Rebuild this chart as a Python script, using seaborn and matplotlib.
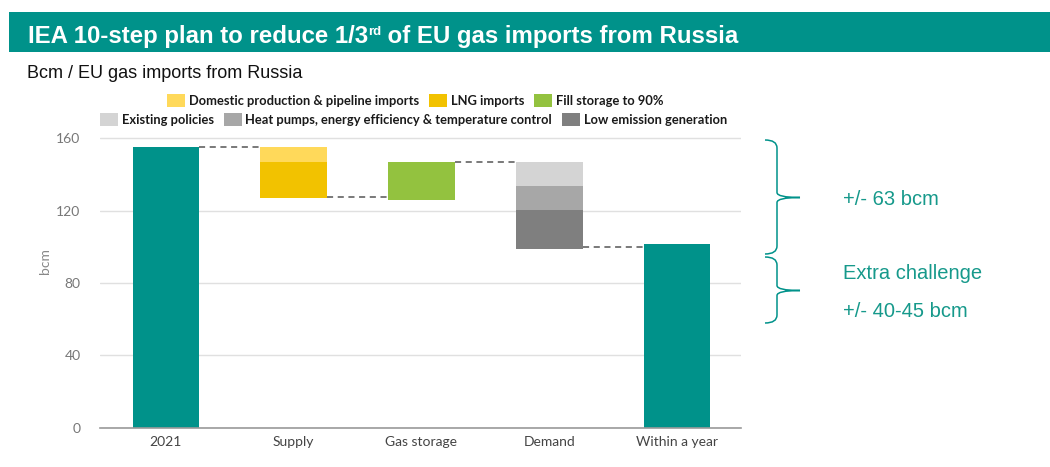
import numpy as np
import pandas as pd
import matplotlib
matplotlib.use("Agg")
import matplotlib.pyplot as plt
import seaborn as sns
from matplotlib.patches import Patch, Rectangle, PathPatch
from matplotlib.path import Path

# ---------------- data ----------------
categories = ["2021", "Supply", "Gas storage", "Demand", "Within a year"]
start_2021 = 155
supply_labels = ["Domestic production & pipeline imports", "LNG imports"]
supply_cuts = [8, 20]
storage_label = "Fill storage to 90%"
storage_low, storage_high = 126, 147
demand_labels = ["Existing policies",
                 "Heat pumps, energy efficiency & temperature control",
                 "Low emission generation"]
demand_cuts = [13.5, 13, 21.5]
within_year = 101.5
y_ticks = [0, 40, 80, 120, 160]
note_top = "+/- 63 bcm"
note_mid = "Extra challenge"
note_bot = "+/- 40-45 bcm"

# ---------------- style ----------------
TEAL = "#00928A"
TEXT_TEAL = "#16998B"
supply_colors = ["#FFD95A", "#F2C200"]
storage_color = "#93C23F"
demand_colors = ["#D4D4D4", "#A7A7A7", "#7F7F7F"]
BW = 0.52

sns.set_theme(style="white")
plt.rcParams["font.family"] = ["Lato", "DejaVu Sans"]

fig = plt.figure(figsize=(10.5, 4.67), dpi=100)
ov = fig.add_axes([0, 0, 1, 1], zorder=0)
ov.set_xlim(0, 1050)
ov.set_ylim(467, 0)
ov.axis("off")

ax = fig.add_axes([100 / 1050, 1 - 427.7 / 467, 641 / 1050, 162 * 1.809 / 467], zorder=1)

# totals via seaborn
tot_vals = [start_2021, 0, 0, 0, within_year]
sns.barplot(x=categories, y=tot_vals, order=categories, color=TEAL, saturation=1,
            width=BW, ax=ax, linewidth=0)

# supply segments
top = start_2021
for val, col in zip(supply_cuts, supply_colors):
    ax.bar(1, val, bottom=top - val, width=BW, color=col, linewidth=0, zorder=3)
    top -= val
supply_end = top
# storage
ax.bar(2, storage_high - storage_low, bottom=storage_low, width=BW,
       color=storage_color, linewidth=0, zorder=3)
# demand
top = storage_high
for val, col in zip(demand_cuts, demand_colors):
    ax.bar(3, val, bottom=top - val, width=BW, color=col, linewidth=0, zorder=3)
    top -= val
demand_end = top

# connectors
dash = dict(color="#555555", lw=1.1, ls=(0, (4, 3)), zorder=2)
h = BW / 2
ax.plot([0 + h, 1 - h], [start_2021, start_2021], **dash)
ax.plot([1 + h, 2 - h], [supply_end + 0.5, supply_end + 0.5], **dash)
ax.plot([2 + h, 3 - h], [storage_high, storage_high], **dash)
ax.plot([3 + h, 4 - h], [demand_end + 1, demand_end + 1], **dash)

# axes formatting
ax.set_xlim(-0.515, 4.5)
ax.set_ylim(0, 162)
ax.set_yticks(y_ticks)
ax.set_yticklabels([str(v) for v in y_ticks], color="#777777", fontsize=10)
ax.set_xticks(range(len(categories)))
ax.set_xticklabels(categories, color="#444444", fontsize=10)
ax.set_xticks([0.5, 1.5, 2.5, 3.5], minor=True)
ax.tick_params(axis="x", which="major", length=0, pad=6)
ax.tick_params(axis="x", which="minor", length=7, width=1, color="#999999", direction="out")
ax.tick_params(axis="y", length=0, pad=14)
ax.set_xlabel("")
ax.set_ylabel("")
ax.yaxis.grid(True, color="#E0E0E0", lw=1)
ax.set_axisbelow(True)
for s in ["left", "right", "top"]:
    ax.spines[s].set_visible(False)
ax.spines["bottom"].set_color("#9A9A9A")
ax.spines["bottom"].set_linewidth(1.2)
ax.spines["bottom"].set_zorder(5)

ov.text(45, 261, "bcm", rotation=90, color="#888888", fontsize=10,
        ha="center", va="center")

# ---------------- banner & titles ----------------
ov.add_patch(Rectangle((9, 12.3), 1041, 39.4, color=TEAL, lw=0))
tfont = dict(family="Liberation Sans", weight="bold", color="white")
t1 = ov.text(28, 42.7, "IEA 10-step plan to reduce 1/3", fontsize=17.3, va="baseline",
             **tfont)
t2 = ov.annotate("rd", xy=(1, 0.93), xycoords=t1, va="top", ha="left", fontsize=9.5,
                 **tfont)
t3 = ov.annotate(" of EU gas imports from Russia", xy=(1, 0), xycoords=(t2, t1),
                 va="bottom", ha="left", fontsize=17.3, **tfont)

ov.text(27, 77.7, "Bcm / EU gas imports from Russia", fontsize=13,
        family="Liberation Sans", color="#111111", va="baseline")

# ---------------- legends ----------------
lprop = dict(family="Lato", weight="bold", size=9.3)
lkw = dict(loc="center", frameon=False, prop=lprop, handlelength=1.4,
           handleheight=1.15, handletextpad=0.3, columnspacing=0.75,
           borderpad=0, borderaxespad=0, ncol=3)
h1 = [Patch(facecolor=c, edgecolor="none") for c in supply_colors + [storage_color]]
l1 = fig.legend(h1, supply_labels + [storage_label],
                bbox_to_anchor=(415 / 1050, 1 - 100.5 / 467), **lkw)
h2 = [Patch(facecolor=c, edgecolor="none") for c in demand_colors]
l2 = fig.legend(h2, demand_labels, bbox_to_anchor=(413.5 / 1050, 1 - 119.5 / 467), **lkw)
for lg in (l1, l2):
    for t in lg.get_texts():
        t.set_color("#1A1A1A")

# ---------------- braces ----------------
def brace(y_top, y_bot, tip_y, x_end=765, x_arm=777, x_tip=800):
    verts = [(x_end, y_top), (x_arm, y_top), (x_arm, y_top + 8),
             (x_arm, tip_y - 5),
             (x_arm, tip_y), (x_tip, tip_y),
             (x_arm, tip_y), (x_arm, tip_y + 5),
             (x_arm, y_bot - 8),
             (x_arm, y_bot), (x_end, y_bot)]
    codes = [Path.MOVETO, Path.CURVE3, Path.CURVE3, Path.LINETO,
             Path.CURVE3, Path.CURVE3, Path.CURVE3, Path.CURVE3,
             Path.LINETO, Path.CURVE3, Path.CURVE3]
    ov.add_patch(PathPatch(Path(verts, codes), fill=False, edgecolor=TEAL, lw=1.1))

brace(140, 254, 197.5)
brace(257, 323, 290.5)

nfont = dict(family="Liberation Sans", color=TEXT_TEAL, fontsize=14.5, va="baseline")
ov.text(843, 205, note_top, **nfont)
ov.text(843, 279, note_mid, **nfont)
ov.text(843, 316.7, note_bot, **nfont)

fig.savefig("out.png", dpi=100)
